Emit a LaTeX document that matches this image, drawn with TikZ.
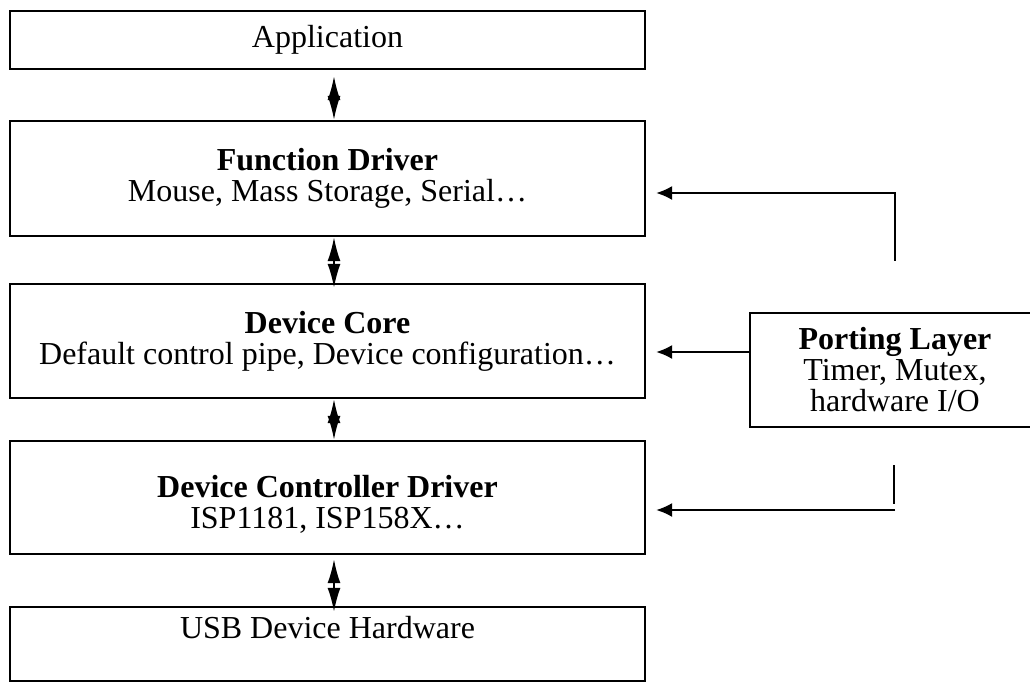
\documentclass[tikz,border=0pt]{standalone}
\usepackage{fontspec}
\setmainfont{Liberation Serif}
\usetikzlibrary{arrows.meta, calc}

\tikzset{
  layer/.style={draw, line width=1.1pt, minimum width=317.5pt, minimum height=#1,
                align=center, inner sep=0pt},
  biarrow/.style={{Latex[length=12pt,width=6.5pt]}-{Latex[length=12pt,width=6.5pt]},
                  line width=1pt},
  portarrow/.style={-{Latex[length=8pt,width=7pt]}, line width=1pt}
}

\begin{document}
\begin{tikzpicture}[x=0.5pt, y=-0.5pt, font=\fontsize{16}{15.5}\selectfont]
  \clip (0,0) rectangle (1030,686); % 图片边界
  % 各层方框
  \node[layer=29pt]   (app)  at (327.5,40)    {Application};
  \node[layer=57.5pt] (fd)   at (327.5,178.5) {\textbf{Function Driver}\\Mouse, Mass Storage, Serial…};
  \node[layer=57pt]   (core) at (327.5,341)   {\textbf{Device Core}\\Default control pipe, Device configuration…};
  \node[layer=56.5pt] (dcd)  at (327.5,497.5) {};
  \node[align=center] (dcdtext) at (327.5,504) {\textbf{Device Controller Driver}\\ISP1181, ISP158X…};
  \node[layer=37pt]   (usb)  at (327.5,644)   {};
  \node (usbtext) at (327.5,628) {USB Device Hardware};
  \node[draw, line width=1.1pt, minimum width=145pt, minimum height=57pt, align=center,
        inner sep=0pt] (port) at (895,370)
        {\textbf{Porting Layer}\\Timer, Mutex,\\hardware I/O};

  % 层间双向箭头
  \draw[biarrow, shorten <=3pt] ([xshift=3.25pt]app.south) -- ([xshift=3.25pt]fd.north);
  \draw[biarrow, shorten >=-2.5pt] ([xshift=3.25pt]fd.south) -- ([xshift=3.25pt]core.north);
  \draw[biarrow] ([xshift=3.25pt]core.south) -- ([xshift=3.25pt]dcd.north);
  \draw[biarrow, shorten <=2pt, shorten >=-3pt] ([xshift=3.25pt]dcd.south) -- ([xshift=3.25pt]usb.north);

  % Porting Layer 的连线
  \coordinate (fdin)   at ($(fd.east)+(10,14.5)$);
  \coordinate (corein) at ($(core.east)+(10,11)$);
  \coordinate (dcdin)  at ($(dcd.east)+(10,12.5)$);
  \draw[portarrow] ($(port.north)+(0,-51)$) |- (fdin);
  \draw[portarrow] (port.west |- corein) -- (corein);
  \draw[line width=1pt] ($(port.south)+(-1,37)$) -- ($(port.south)+(-1,76)$);
  \draw[portarrow] (dcdin -| port.south) -- (dcdin);
\end{tikzpicture}
\end{document}
